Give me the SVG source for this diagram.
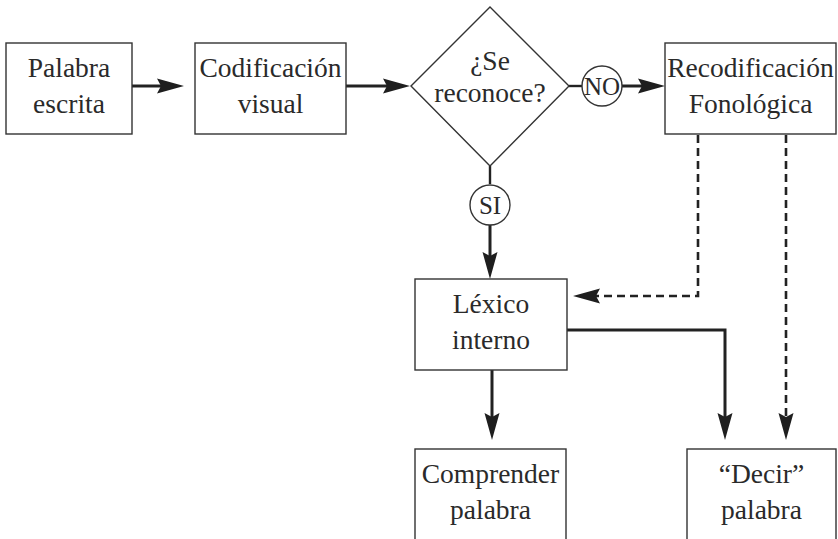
<svg xmlns="http://www.w3.org/2000/svg" width="838" height="539" viewBox="0 0 838 539">
  <style>
    .box { fill: #ffffff; stroke: #333333; stroke-width: 1.4; }
    .lbl { font-family: "Liberation Serif", "Times New Roman", "DejaVu Serif", serif; font-size: 27.5px; fill: #2a2a2a; text-anchor: middle; }
    .small { font-size: 25px; }
    .wire { fill: none; stroke: #222222; stroke-width: 3; }
    .dash { fill: none; stroke: #222222; stroke-width: 2.6; stroke-dasharray: 8 5; }
    .thin { fill: none; stroke: #222222; stroke-width: 2.4; }
  </style>
  <defs>
    <!-- solid, slightly notched arrowhead; refX sits at the notch so lines end inside it -->
    <marker id="arrow" markerUnits="userSpaceOnUse" markerWidth="28" markerHeight="18" viewBox="0 0 28 18" refX="4" refY="9" orient="auto">
      <path d="M0,1.5 L27,9 L0,16.5 L4,9 Z" fill="#1e1e1e"/>
    </marker>
  </defs>
  <rect width="838" height="539" fill="#ffffff"/>

  <g id="connectors">
    <line class="wire" x1="132" y1="86" x2="161" y2="86" marker-end="url(#arrow)"/>
    <line class="wire" x1="346" y1="86" x2="387" y2="86" marker-end="url(#arrow)"/>
    <line class="thin" x1="569" y1="86" x2="582" y2="86"/>
    <line class="wire" x1="622" y1="86" x2="642" y2="86" marker-end="url(#arrow)"/>
    <line class="thin" x1="490" y1="166" x2="490" y2="184"/>
    <line class="wire" x1="490" y1="225" x2="490" y2="256" marker-end="url(#arrow)"/>
    <polyline class="dash" points="698,135 698,296 596,296" marker-end="url(#arrow)"/>
    <line class="dash" x1="786" y1="135" x2="786" y2="417" marker-end="url(#arrow)"/>
    <polyline class="wire" points="567,330 725,330 725,417" marker-end="url(#arrow)"/>
    <line class="wire" x1="492" y1="370" x2="492" y2="417" marker-end="url(#arrow)"/>
  </g>

  <g id="palabra-escrita">
    <rect class="box" x="6" y="43" width="126" height="91"/>
    <text class="lbl" x="69" y="77">Palabra</text>
    <text class="lbl" x="69" y="113">escrita</text>
  </g>

  <g id="codificacion-visual">
    <rect class="box" x="195" y="43" width="151" height="91"/>
    <text class="lbl" x="270.5" y="77">Codificación</text>
    <text class="lbl" x="270.5" y="113">visual</text>
  </g>

  <g id="se-reconoce">
    <polygon class="box" points="490,7 569,86 490,166 411,86"/>
    <text class="lbl" x="490" y="70">¿Se</text>
    <text class="lbl" x="490" y="102">reconoce?</text>
  </g>

  <g id="no">
    <circle class="box" cx="602" cy="86" r="20"/>
    <text class="lbl small" x="602" y="95">NO</text>
  </g>

  <g id="si">
    <circle class="box" cx="490" cy="205" r="20"/>
    <text class="lbl small" x="490" y="214">SI</text>
  </g>

  <g id="recodificacion-fonologica">
    <rect class="box" x="665" y="43" width="171" height="91"/>
    <text class="lbl" x="750.5" y="77">Recodificación</text>
    <text class="lbl" x="750.5" y="113">Fonológica</text>
  </g>

  <g id="lexico-interno">
    <rect class="box" x="415" y="279" width="152" height="91"/>
    <text class="lbl" x="491" y="313">Léxico</text>
    <text class="lbl" x="491" y="349">interno</text>
  </g>

  <g id="comprender-palabra">
    <rect class="box" x="415" y="449" width="151" height="110"/>
    <text class="lbl" x="490.5" y="483">Comprender</text>
    <text class="lbl" x="490.5" y="519">palabra</text>
  </g>

  <g id="decir-palabra">
    <rect class="box" x="687" y="449" width="149" height="110"/>
    <text class="lbl" x="761.5" y="483">“Decir”</text>
    <text class="lbl" x="761.5" y="519">palabra</text>
  </g>
</svg>
